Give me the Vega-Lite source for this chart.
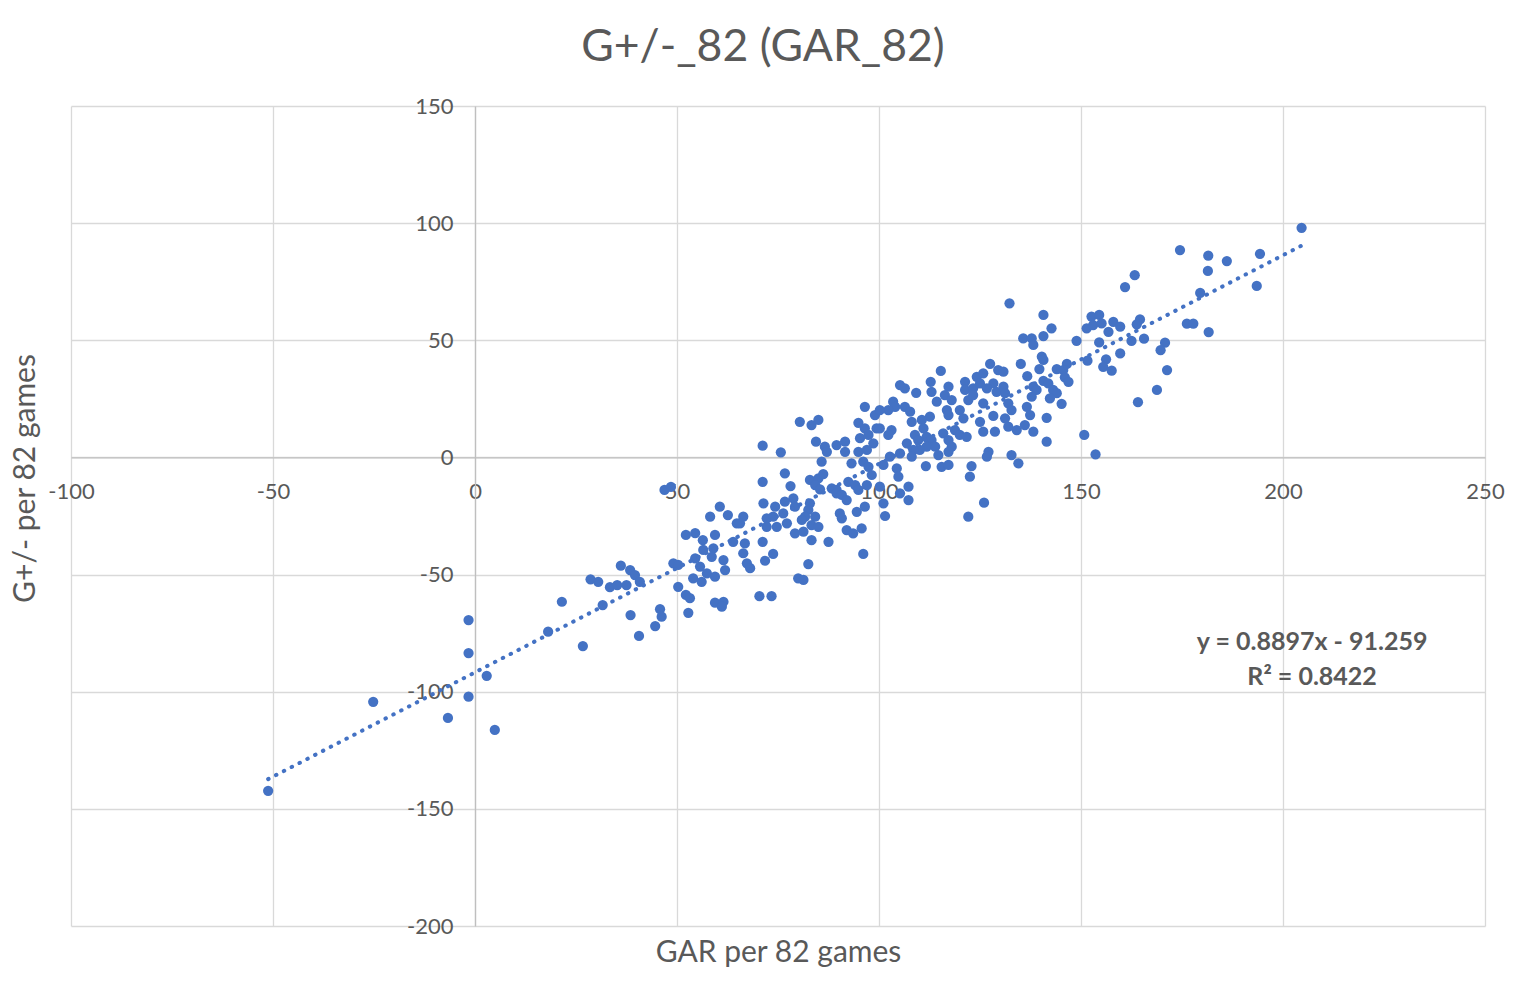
{
  "$schema": "https://vega.github.io/schema/vega-lite/v6.json",
  "width": 1414,
  "height": 820,
  "autosize": {"type": "none"},
  "padding": {"left": 71, "top": 106, "right": 42, "bottom": 72},
  "background": "white",
  "title": {
    "text": "G+/-_82 (GAR_82)",
    "font": "Lato",
    "fontSize": 44.5,
    "fontWeight": "normal",
    "color": "#595959",
    "anchor": "middle",
    "dx": -15,
    "baseline": "alphabetic",
    "offset": -10
  },
  "data": {
    "values": [
      {"gar": -51.2, "gpm": -142.3}, {"gar": -25.2, "gpm": -104.3}, {"gar": -6.7, "gpm": -111.2}, {"gar": -1.6, "gpm": -69.4},
      {"gar": -1.6, "gpm": -83.5}, {"gar": -1.6, "gpm": -102.1}, {"gar": 2.9, "gpm": -93.2}, {"gar": 4.9, "gpm": -116.3},
      {"gar": 18.1, "gpm": -74.4}, {"gar": 26.7, "gpm": -80.5}, {"gar": 40.6, "gpm": -76.2},
      {"gar": 46.9, "gpm": -13.9}, {"gar": 48.5, "gpm": -12.6}, {"gar": 52.2, "gpm": -33.1}, {"gar": 54.5, "gpm": -32.3},
      {"gar": 56.4, "gpm": -35.3}, {"gar": 59.4, "gpm": -33.1}, {"gar": 60.6, "gpm": -21.0}, {"gar": 58.2, "gpm": -25.3},
      {"gar": 62.6, "gpm": -24.6}, {"gar": 64.8, "gpm": -28.1}, {"gar": 63.9, "gpm": -36.0}, {"gar": 59.0, "gpm": -38.8},
      {"gar": 58.6, "gpm": -42.4}, {"gar": 56.5, "gpm": -39.5}, {"gar": 54.5, "gpm": -43.1}, {"gar": 55.7, "gpm": -46.6},
      {"gar": 61.5, "gpm": -43.8}, {"gar": 61.9, "gpm": -48.1}, {"gar": 54.0, "gpm": -51.6}, {"gar": 56.1, "gpm": -53.1},
      {"gar": 57.4, "gpm": -49.5}, {"gar": 59.4, "gpm": -50.9}, {"gar": 59.4, "gpm": -62.0}, {"gar": 61.5, "gpm": -61.6},
      {"gar": 61.1, "gpm": -63.7}, {"gar": 49.1, "gpm": -45.2}, {"gar": 50.3, "gpm": -45.9}, {"gar": 50.3, "gpm": -55.2},
      {"gar": 52.2, "gpm": -58.7}, {"gar": 53.2, "gpm": -60.1}, {"gar": 52.8, "gpm": -66.3}, {"gar": 45.8, "gpm": -64.8},
      {"gar": 46.2, "gpm": -68.0}, {"gar": 44.6, "gpm": -72.0}, {"gar": 38.5, "gpm": -67.3}, {"gar": 31.6, "gpm": -63.0},
      {"gar": 21.5, "gpm": -61.6}, {"gar": 28.6, "gpm": -52.0}, {"gar": 30.5, "gpm": -53.1}, {"gar": 33.4, "gpm": -55.4},
      {"gar": 35.2, "gpm": -54.5}, {"gar": 37.5, "gpm": -54.5}, {"gar": 36.1, "gpm": -46.2}, {"gar": 38.4, "gpm": -48.1},
      {"gar": 39.6, "gpm": -50.2}, {"gar": 40.8, "gpm": -53.1},
      {"gar": 96.5, "gpm": 21.6}, {"gar": 99.0, "gpm": 18.1}, {"gar": 80.4, "gpm": 15.2}, {"gar": 83.3, "gpm": 13.8},
      {"gar": 85.0, "gpm": 16.0}, {"gar": 94.9, "gpm": 14.8}, {"gar": 96.5, "gpm": 12.4}, {"gar": 99.4, "gpm": 12.4},
      {"gar": 71.2, "gpm": 5.0}, {"gar": 75.7, "gpm": 2.2}, {"gar": 84.4, "gpm": 6.7}, {"gar": 86.6, "gpm": 4.6},
      {"gar": 87.1, "gpm": 2.4}, {"gar": 89.5, "gpm": 5.3}, {"gar": 91.6, "gpm": 6.7}, {"gar": 91.6, "gpm": 2.4},
      {"gar": 95.3, "gpm": 8.2}, {"gar": 97.4, "gpm": 9.6}, {"gar": 98.6, "gpm": 6.0}, {"gar": 94.9, "gpm": 2.4},
      {"gar": 97.0, "gpm": 3.2}, {"gar": 85.8, "gpm": -1.8}, {"gar": 93.2, "gpm": -2.5}, {"gar": 96.1, "gpm": -1.8},
      {"gar": 97.4, "gpm": -4.0}, {"gar": 98.2, "gpm": -7.5}, {"gar": 76.7, "gpm": -6.8}, {"gar": 71.2, "gpm": -10.4},
      {"gar": 78.1, "gpm": -12.2}, {"gar": 82.9, "gpm": -9.6}, {"gar": 85.0, "gpm": -8.9}, {"gar": 86.2, "gpm": -7.1},
      {"gar": 84.2, "gpm": -11.8}, {"gar": 85.4, "gpm": -13.6}, {"gar": 88.3, "gpm": -13.2}, {"gar": 89.5, "gpm": -13.9},
      {"gar": 89.5, "gpm": -15.3}, {"gar": 90.8, "gpm": -16.0}, {"gar": 92.0, "gpm": -18.2}, {"gar": 92.4, "gpm": -10.4},
      {"gar": 94.1, "gpm": -11.8}, {"gar": 94.9, "gpm": -13.9}, {"gar": 97.0, "gpm": -11.8}, {"gar": 78.8, "gpm": -17.5},
      {"gar": 76.7, "gpm": -18.9}, {"gar": 74.3, "gpm": -21.0}, {"gar": 71.4, "gpm": -19.6}, {"gar": 79.2, "gpm": -21.0},
      {"gar": 82.9, "gpm": -19.6}, {"gar": 82.5, "gpm": -22.4}, {"gar": 81.7, "gpm": -25.3}, {"gar": 80.9, "gpm": -26.7},
      {"gar": 84.2, "gpm": -25.3}, {"gar": 83.3, "gpm": -28.9}, {"gar": 85.0, "gpm": -29.6}, {"gar": 90.3, "gpm": -23.9},
      {"gar": 90.8, "gpm": -26.0}, {"gar": 94.5, "gpm": -23.2}, {"gar": 96.5, "gpm": -21.0}, {"gar": 72.2, "gpm": -26.0},
      {"gar": 73.8, "gpm": -25.3}, {"gar": 76.3, "gpm": -23.9}, {"gar": 77.2, "gpm": -28.1}, {"gar": 72.2, "gpm": -29.6},
      {"gar": 74.7, "gpm": -29.6}, {"gar": 66.4, "gpm": -25.3}, {"gar": 65.6, "gpm": -28.1}, {"gar": 79.2, "gpm": -32.4},
      {"gar": 81.3, "gpm": -31.7}, {"gar": 83.3, "gpm": -35.3}, {"gar": 87.5, "gpm": -36.0}, {"gar": 92.0, "gpm": -31.0},
      {"gar": 93.6, "gpm": -32.4}, {"gar": 95.7, "gpm": -30.3}, {"gar": 71.2, "gpm": -36.0}, {"gar": 66.8, "gpm": -36.7},
      {"gar": 66.4, "gpm": -40.9}, {"gar": 73.8, "gpm": -41.2}, {"gar": 71.8, "gpm": -44.1}, {"gar": 67.3, "gpm": -45.2},
      {"gar": 68.1, "gpm": -47.3}, {"gar": 96.1, "gpm": -41.2}, {"gar": 82.5, "gpm": -45.5}, {"gar": 80.0, "gpm": -51.6},
      {"gar": 81.3, "gpm": -52.3}, {"gar": 70.4, "gpm": -59.2}, {"gar": 73.4, "gpm": -59.2}, {"gar": 100.2, "gpm": -12.5},
      {"gar": 127.5, "gpm": 39.9}, {"gar": 115.3, "gpm": 36.9}, {"gar": 105.2, "gpm": 30.9}, {"gar": 106.4, "gpm": 29.5},
      {"gar": 112.8, "gpm": 32.3}, {"gar": 113.0, "gpm": 28.0}, {"gar": 109.2, "gpm": 27.6}, {"gar": 117.2, "gpm": 30.2},
      {"gar": 121.3, "gpm": 32.3}, {"gar": 124.2, "gpm": 34.4}, {"gar": 125.8, "gpm": 35.9}, {"gar": 129.5, "gpm": 37.3},
      {"gar": 128.3, "gpm": 31.6}, {"gar": 121.3, "gpm": 28.8}, {"gar": 123.3, "gpm": 29.5}, {"gar": 125.0, "gpm": 31.6},
      {"gar": 126.7, "gpm": 29.5}, {"gar": 129.1, "gpm": 28.0}, {"gar": 116.3, "gpm": 26.6}, {"gar": 114.3, "gpm": 23.8},
      {"gar": 118.0, "gpm": 24.5}, {"gar": 122.1, "gpm": 24.5}, {"gar": 123.3, "gpm": 26.6}, {"gar": 125.8, "gpm": 23.1},
      {"gar": 103.5, "gpm": 23.8}, {"gar": 104.0, "gpm": 21.6}, {"gar": 102.3, "gpm": 20.2}, {"gar": 106.4, "gpm": 21.6},
      {"gar": 107.7, "gpm": 19.5}, {"gar": 100.2, "gpm": 20.2}, {"gar": 116.8, "gpm": 20.2}, {"gar": 120.0, "gpm": 20.2},
      {"gar": 120.9, "gpm": 16.7}, {"gar": 117.2, "gpm": 18.1}, {"gar": 112.6, "gpm": 17.4}, {"gar": 110.6, "gpm": 16.0},
      {"gar": 108.1, "gpm": 15.2}, {"gar": 111.0, "gpm": 12.4}, {"gar": 125.0, "gpm": 15.2}, {"gar": 128.3, "gpm": 17.7},
      {"gar": 125.8, "gpm": 11.0}, {"gar": 128.7, "gpm": 11.0}, {"gar": 103.1, "gpm": 11.7}, {"gar": 102.3, "gpm": 9.6},
      {"gar": 100.2, "gpm": 12.4}, {"gar": 118.8, "gpm": 11.7}, {"gar": 115.9, "gpm": 10.3}, {"gar": 120.0, "gpm": 9.6},
      {"gar": 121.7, "gpm": 8.8}, {"gar": 117.2, "gpm": 7.4}, {"gar": 118.0, "gpm": 4.6}, {"gar": 117.2, "gpm": 2.4},
      {"gar": 108.9, "gpm": 9.6}, {"gar": 106.9, "gpm": 6.0}, {"gar": 109.7, "gpm": 7.4}, {"gar": 111.8, "gpm": 8.8},
      {"gar": 113.0, "gpm": 7.4}, {"gar": 113.9, "gpm": 4.6}, {"gar": 111.8, "gpm": 4.6}, {"gar": 110.1, "gpm": 3.2},
      {"gar": 108.5, "gpm": 3.2}, {"gar": 105.2, "gpm": 1.7}, {"gar": 102.7, "gpm": 0.3}, {"gar": 114.7, "gpm": 1.0},
      {"gar": 108.1, "gpm": 0.3}, {"gar": 127.1, "gpm": 2.4}, {"gar": 126.7, "gpm": 0.3}, {"gar": 101.1, "gpm": -3.2},
      {"gar": 104.4, "gpm": -4.7}, {"gar": 111.6, "gpm": -3.7}, {"gar": 115.5, "gpm": -4.0}, {"gar": 117.2, "gpm": -3.2},
      {"gar": 122.9, "gpm": -3.7}, {"gar": 122.5, "gpm": -8.2}, {"gar": 104.8, "gpm": -8.2}, {"gar": 107.3, "gpm": -12.5},
      {"gar": 105.2, "gpm": -15.3}, {"gar": 107.3, "gpm": -18.2}, {"gar": 101.1, "gpm": -19.6}, {"gar": 126.0, "gpm": -19.3},
      {"gar": 122.1, "gpm": -25.3}, {"gar": 101.5, "gpm": -25.0},
      {"gar": 132.3, "gpm": 65.8}, {"gar": 140.7, "gpm": 60.8}, {"gar": 142.7, "gpm": 55.1}, {"gar": 140.7, "gpm": 51.8},
      {"gar": 135.7, "gpm": 50.8}, {"gar": 137.8, "gpm": 50.8}, {"gar": 138.2, "gpm": 48.0}, {"gar": 152.6, "gpm": 60.1},
      {"gar": 154.5, "gpm": 60.8}, {"gar": 151.4, "gpm": 55.1}, {"gar": 153.0, "gpm": 56.5}, {"gar": 155.1, "gpm": 57.2},
      {"gar": 158.0, "gpm": 57.9}, {"gar": 156.8, "gpm": 53.6}, {"gar": 148.9, "gpm": 49.8}, {"gar": 154.5, "gpm": 49.1},
      {"gar": 156.2, "gpm": 41.9}, {"gar": 155.5, "gpm": 38.7}, {"gar": 157.6, "gpm": 37.0}, {"gar": 151.6, "gpm": 41.3},
      {"gar": 140.3, "gpm": 43.0}, {"gar": 140.7, "gpm": 41.6}, {"gar": 135.1, "gpm": 39.9}, {"gar": 139.7, "gpm": 37.7},
      {"gar": 144.0, "gpm": 37.7}, {"gar": 146.5, "gpm": 39.9}, {"gar": 145.6, "gpm": 37.3}, {"gar": 146.0, "gpm": 34.2},
      {"gar": 146.9, "gpm": 32.3}, {"gar": 136.7, "gpm": 34.7}, {"gar": 130.8, "gpm": 36.6}, {"gar": 140.7, "gpm": 32.7},
      {"gar": 141.9, "gpm": 31.6}, {"gar": 138.2, "gpm": 30.2}, {"gar": 139.0, "gpm": 28.8}, {"gar": 143.1, "gpm": 28.8},
      {"gar": 144.0, "gpm": 27.4}, {"gar": 137.8, "gpm": 25.9}, {"gar": 142.3, "gpm": 25.2}, {"gar": 145.2, "gpm": 22.9},
      {"gar": 130.8, "gpm": 30.2}, {"gar": 131.2, "gpm": 27.4}, {"gar": 132.0, "gpm": 23.1}, {"gar": 132.8, "gpm": 20.2},
      {"gar": 136.6, "gpm": 21.6}, {"gar": 137.4, "gpm": 18.1}, {"gar": 141.5, "gpm": 16.9}, {"gar": 131.2, "gpm": 16.7},
      {"gar": 132.0, "gpm": 13.1}, {"gar": 134.1, "gpm": 11.7}, {"gar": 136.1, "gpm": 13.8}, {"gar": 138.2, "gpm": 11.0},
      {"gar": 141.5, "gpm": 6.7}, {"gar": 150.8, "gpm": 9.6}, {"gar": 153.6, "gpm": 1.3}, {"gar": 132.8, "gpm": 1.0},
      {"gar": 134.5, "gpm": -2.5},
      {"gar": 204.6, "gpm": 98.0}, {"gar": 194.3, "gpm": 86.9}, {"gar": 193.5, "gpm": 73.2}, {"gar": 186.1, "gpm": 83.8},
      {"gar": 181.5, "gpm": 86.1}, {"gar": 181.4, "gpm": 79.6}, {"gar": 174.5, "gpm": 88.5}, {"gar": 179.5, "gpm": 70.2},
      {"gar": 176.2, "gpm": 57.1}, {"gar": 177.8, "gpm": 57.1}, {"gar": 181.6, "gpm": 53.5}, {"gar": 163.3, "gpm": 77.8},
      {"gar": 160.9, "gpm": 72.7}, {"gar": 164.6, "gpm": 58.9}, {"gar": 163.8, "gpm": 56.8}, {"gar": 159.7, "gpm": 55.8},
      {"gar": 162.5, "gpm": 49.7}, {"gar": 165.6, "gpm": 50.7}, {"gar": 170.8, "gpm": 49.0}, {"gar": 169.7, "gpm": 45.8},
      {"gar": 159.7, "gpm": 44.4}, {"gar": 171.3, "gpm": 37.3}, {"gar": 168.8, "gpm": 28.8}, {"gar": 164.1, "gpm": 23.6}
    ]
  },
  "layer": [
    {
      "mark": {"type": "circle", "size": 105, "color": "#4472C4", "opacity": 1},
      "encoding": {
        "x": {
          "field": "gar",
          "type": "quantitative",
          "scale": {"domain": [-100, 250], "nice": false, "zero": false},
          "axis": {
            "values": [-100, -50, 0, 50, 100, 150, 200, 250],
            "grid": true,
            "labels": false,
            "domain": false,
            "ticks": false,
            "title": "GAR per 82 games",
            "titleX": 707,
            "titleY": 26,
            "titleBaseline": "middle"
          }
        },
        "y": {
          "field": "gpm",
          "type": "quantitative",
          "scale": {"domain": [-200, 150], "nice": false, "zero": false},
          "axis": {
            "values": [-200, -150, -100, -50, 0, 50, 100, 150],
            "grid": true,
            "labels": false,
            "domain": false,
            "ticks": false,
            "title": "G+/- per 82 games",
            "titleX": -46,
            "titleY": 372,
            "titleAngle": -90,
            "titleBaseline": "middle"
          }
        }
      }
    },
    {
      "transform": [{"regression": "gpm", "on": "gar"}],
      "mark": {"type": "line", "color": "#4472C4", "strokeWidth": 4, "strokeDash": [0.5, 8.3], "strokeCap": "round"},
      "encoding": {
        "x": {
          "field": "gar",
          "type": "quantitative",
          "scale": {"domain": [-100, 250], "nice": false, "zero": false},
          "axis": {
            "orient": "bottom",
            "offset": -468.6,
            "values": [-100, -50, 0, 50, 100, 150, 200, 250],
            "labelExpr": "datum.value + ''",
            "grid": false,
            "ticks": false,
            "tickSize": 0,
            "labelPadding": 24,
            "labelFlush": false,
            "labelOverlap": false,
            "title": null
          }
        },
        "y": {
          "field": "gpm",
          "type": "quantitative",
          "scale": {"domain": [-200, 150], "nice": false, "zero": false},
          "axis": {
            "orient": "left",
            "offset": -404,
            "values": [-200, -150, -100, -50, 0, 50, 100, 150],
            "labelExpr": "datum.value + ''",
            "grid": false,
            "ticks": false,
            "tickSize": 0,
            "labelPadding": 22,
            "labelFlush": false,
            "labelOverlap": false,
            "title": null
          }
        }
      }
    },
    {
      "data": {
        "values": [
          {"label": "y = 0.8897x - 91.259", "gx": 207.2, "gy": -78.8},
          {"label": "R² = 0.8422", "gx": 207.2, "gy": -93.7}
        ]
      },
      "mark": {"type": "text", "font": "Lato", "fontSize": 25, "fontWeight": "bold", "color": "#595959", "align": "center", "baseline": "middle"},
      "encoding": {
        "x": {"field": "gx", "type": "quantitative", "axis": null},
        "y": {"field": "gy", "type": "quantitative", "axis": null},
        "text": {"field": "label"}
      }
    }
  ],
  "resolve": {"axis": {"x": "independent", "y": "independent"}},
  "config": {
    "view": {"stroke": null},
    "axis": {
      "labelFont": "Lato",
      "titleFont": "Lato",
      "labelFontSize": 22,
      "titleFontSize": 30,
      "titleFontWeight": "normal",
      "labelColor": "#595959",
      "titleColor": "#595959",
      "gridColor": "#d9d9d9",
      "gridWidth": 1.3,
      "domainColor": "#bfbfbf",
      "domainWidth": 1.3
    }
  }
}
